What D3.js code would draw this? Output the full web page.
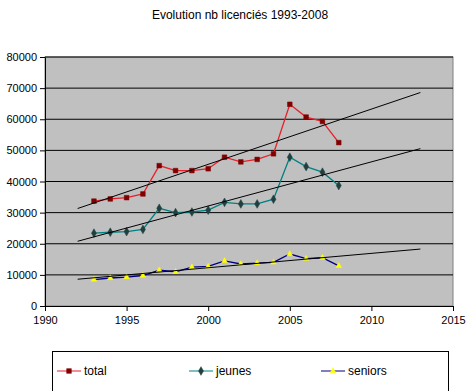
<!DOCTYPE html>
<html><head><meta charset="utf-8">
<script src="https://cdn.jsdelivr.net/npm/d3@7"></script>
<style>body{margin:0;background:#fff;}svg{display:block;font-family:"Liberation Sans",Arial,sans-serif;}</style>
</head><body>
<script>
const years = [1993,1994,1995,1996,1997,1998,1999,2000,2001,2002,2003,2004,2005,2006,2007,2008];
const total = [33700,34400,34800,36000,45100,43500,43500,44100,47800,46300,47100,48900,64800,60700,59300,52500];
const jeunes = [23400,23700,23900,24600,31400,30000,30200,30800,33300,32800,32800,34300,47800,44800,43000,38700];
const seniors = [8500,9000,9300,9800,11500,11000,12500,12700,14500,13500,13800,14000,16700,15200,15500,12900];
const seriesNames = ["total","jeunes","seniors"];
const xTicks = [1990,1995,2000,2005,2010,2015];
const yTicks = [0,10000,20000,30000,40000,50000,60000,70000,80000];
const title = "Evolution nb licenciés 1993-2008";

const W=471,H=391;
const svg=d3.select("body").append("svg").attr("width",W).attr("height",H);
const L=45,R=453,T=57,B=306;
const x=d3.scaleLinear().domain([1990,2015]).range([L,R]);
const y=d3.scaleLinear().domain([0,80000]).range([B,T]);

svg.append("text").attr("x",240).attr("y",19).attr("text-anchor","middle").attr("font-size",12).text(title);

svg.append("rect").attr("x",L).attr("y",T).attr("width",R-L).attr("height",B-T).attr("fill","#c0c0c0").attr("stroke","#808080");
svg.append("g").selectAll("line").data(yTicks.slice(1)).join("line")
  .attr("x1",L).attr("x2",R).attr("y1",d=>y(d)).attr("y2",d=>y(d)).attr("stroke","#000").attr("stroke-width",1);

const yAxis=svg.append("g").attr("transform",`translate(${L},0)`).call(d3.axisLeft(y).tickValues(yTicks).tickSize(5).tickSizeOuter(0).tickFormat(d3.format("d")));
const xAxis=svg.append("g").attr("transform",`translate(0,${B})`).call(d3.axisBottom(x).tickValues(xTicks).tickSize(5).tickSizeOuter(0).tickFormat(d3.format("d")));
[yAxis,xAxis].forEach(a=>{a.selectAll("text").attr("font-size",11).attr("font-family","Liberation Sans, Arial, sans-serif").attr("fill","#000");a.selectAll("line,path").attr("stroke","#000");});
yAxis.selectAll("text").attr("x",-8);
xAxis.selectAll("text").attr("y",10);

// trend lines (least squares, forward 5, backward 1)
function trend(vals){
  const n=years.length, mx=d3.mean(years), my=d3.mean(vals);
  let sxy=0,sxx=0; years.forEach((t,i)=>{sxy+=(t-mx)*(vals[i]-my);sxx+=(t-mx)*(t-mx);});
  const b=sxy/sxx,a=my-b*mx; return t=>a+b*t;
}
const series=[
  {vals:total,line:"#e8202a",mk:"#800000",shape:d3.symbolSquare,size:22},
  {vals:jeunes,line:"#008080",mk:"#204040",shape:d3.symbolDiamond,size:22},
  {vals:seniors,line:"#000080",mk:"#ffff00",shape:d3.symbolTriangle,size:14}
];
const line=d3.line().x(d=>x(d[0])).y(d=>y(d[1]));
series.forEach(s=>{
  const pts=years.map((t,i)=>[t,s.vals[i]]);
  svg.append("path").attr("d",line(pts)).attr("fill","none").attr("stroke",s.line).attr("stroke-width",1.3);
  svg.append("g").selectAll("path").data(pts).join("path")
    .attr("transform",d=>`translate(${x(d[0])},${y(d[1])})`)
    .attr("d",d3.symbol().type(s.shape).size(s.size)).attr("fill",s.mk).attr("stroke",s.mk).attr("stroke-width",0.5);
});
series.forEach(s=>{
  const f=trend(s.vals);
  svg.append("line").attr("x1",x(1992)).attr("y1",y(f(1992))).attr("x2",x(2013)).attr("y2",y(f(2013))).attr("stroke","#000").attr("stroke-width",1);
});

// legend
svg.append("rect").attr("x",52.5).attr("y",351.5).attr("width",396).attr("height",50).attr("fill","#fff").attr("stroke","#000");
const lx=[57,189,321];
series.forEach((s,i)=>{
  const g=svg.append("g").attr("transform",`translate(${lx[i]},371)`);
  g.append("line").attr("x1",0).attr("x2",24).attr("stroke",s.line).attr("stroke-width",1);
  g.append("path").attr("transform","translate(12,0)").attr("d",d3.symbol().type(s.shape).size(s.size)).attr("fill",s.mk).attr("stroke",s.mk).attr("stroke-width",0.5);
  g.append("text").attr("x",27).attr("y",4).attr("font-size",12).text(seriesNames[i]);
});
</script>
</body></html>
